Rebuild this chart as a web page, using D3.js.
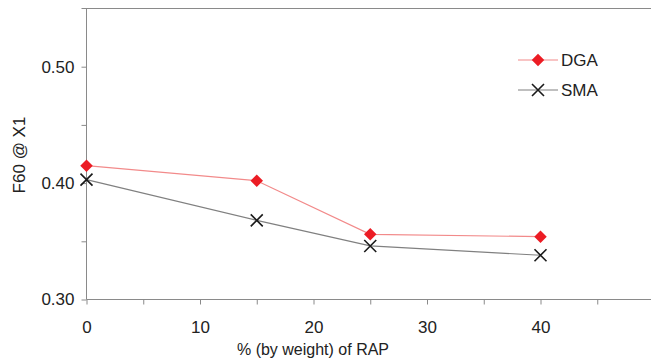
<!DOCTYPE html>
<html>
<head>
<meta charset="utf-8">
<script src="https://cdn.jsdelivr.net/npm/d3@7"></script>
<style>
  body { margin: 0; background: #fff; }
  svg { display: block; font-family: "Liberation Sans", Arial, sans-serif; }
</style>
</head>
<body>
<div id="chart"></div>
<script>
const rapPct = [0, 15, 25, 40];
const dgaValues = [0.415, 0.402, 0.356, 0.354];
const smaValues = [0.403, 0.368, 0.346, 0.338];
const xTicks = [0, 10, 20, 30, 40];
const yTicks = [0.30, 0.40, 0.50];
const seriesNames = ['DGA', 'SMA'];

const width = 651, height = 358;
const axisGray = '#8a8a8a';

const svg = d3.select('#chart').append('svg')
  .attr('width', width)
  .attr('height', height);

const x = d3.scaleLinear([0, 50], [86.5, 654]);
const y = d3.scaleLinear([0.30, 0.55], [299.5, 8.5]);

// frame lines: left axis, top border
svg.append('line')
  .attr('x1', x(0)).attr('x2', x(0))
  .attr('y1', y(0.55)).attr('y2', y(0.30))
  .attr('stroke', axisGray);
svg.append('line')
  .attr('x1', x(0) - 5).attr('x2', width)
  .attr('y1', y(0.55)).attr('y2', y(0.55))
  .attr('stroke', axisGray);

// x axis
const xAxis = d3.axisBottom(x)
  .tickValues(d3.range(0, 50, 5))
  .tickSize(5)
  .tickFormat(d => xTicks.includes(d) ? d : '');
const gx = svg.append('g')
  .attr('transform', `translate(0,${y(0.30)})`)
  .call(xAxis);
gx.select('.domain').attr('stroke', axisGray).attr('d', `M${x(0)},0H${width}`);
gx.selectAll('.tick line').attr('stroke', axisGray);
gx.selectAll('.tick text')
  .attr('dy', '0.71em')
  .attr('y', 21)
  .attr('fill', '#222')
  .style('font-size', '17px');

// y axis
const yAxis = d3.axisLeft(y)
  .tickValues([0.30, 0.35, 0.40, 0.45, 0.50])
  .tickSize(5)
  .tickFormat(d => yTicks.some(t => Math.abs(t - d) < 1e-9) ? d3.format('.2f')(d) : '');
const gy = svg.append('g')
  .attr('transform', `translate(${x(0)},0)`)
  .call(yAxis);
gy.select('.domain').remove();
gy.selectAll('.tick line').attr('stroke', axisGray);
gy.selectAll('.tick text')
  .attr('x', -12)
  .attr('fill', '#222')
  .style('font-size', '17px');

// axis titles
svg.append('text')
  .attr('x', 313).attr('y', 355)
  .attr('text-anchor', 'middle')
  .attr('fill', '#222')
  .style('font-size', '16px')
  .text('% (by weight) of RAP');

svg.append('text')
  .attr('transform', 'translate(25,155) rotate(-90)')
  .attr('text-anchor', 'middle')
  .attr('fill', '#222')
  .style('font-size', '17px')
  .text('F60 @ X1');

const line = d3.line().x(d => x(d[0])).y(d => y(d[1]));
const dgaPts = rapPct.map((p, i) => [p, dgaValues[i]]);
const smaPts = rapPct.map((p, i) => [p, smaValues[i]]);

svg.append('path')
  .attr('d', line(dgaPts))
  .attr('fill', 'none')
  .attr('stroke', '#f28a8a')
  .attr('stroke-width', 1.2);
svg.append('path')
  .attr('d', line(smaPts))
  .attr('fill', 'none')
  .attr('stroke', '#808080')
  .attr('stroke-width', 1.2);

const diamond = d3.symbol(d3.symbolDiamond2, 100);
const drawDiamond = (g, cx, cy) => g.append('path')
  .attr('d', diamond())
  .attr('transform', `translate(${cx},${cy})`)
  .attr('fill', '#ec1c24');
const drawCross = (g, cx, cy) => g.append('path')
  .attr('d', `M-6,-6L6,6M-6,6L6,-6`)
  .attr('transform', `translate(${cx},${cy})`)
  .attr('stroke', '#1a1a1a')
  .attr('stroke-width', 1.6)
  .attr('fill', 'none');

dgaPts.forEach(d => drawDiamond(svg, x(d[0]), y(d[1])));
smaPts.forEach(d => drawCross(svg, x(d[0]), y(d[1])));

// legend
const legend = svg.append('g').attr('transform', 'translate(518,60)');
seriesNames.forEach((name, i) => {
  const ly = i * 30;
  legend.append('line')
    .attr('x1', 0).attr('x2', 40)
    .attr('y1', ly).attr('y2', ly)
    .attr('stroke', i === 0 ? '#f28a8a' : '#808080')
    .attr('stroke-width', 1.2);
  if (i === 0) drawDiamond(legend, 20, ly);
  else drawCross(legend, 20, ly);
  legend.append('text')
    .attr('x', 43).attr('y', ly)
    .attr('dy', '0.35em')
    .attr('fill', '#222')
    .style('font-size', '17px')
    .text(name);
});
</script>
</body>
</html>
